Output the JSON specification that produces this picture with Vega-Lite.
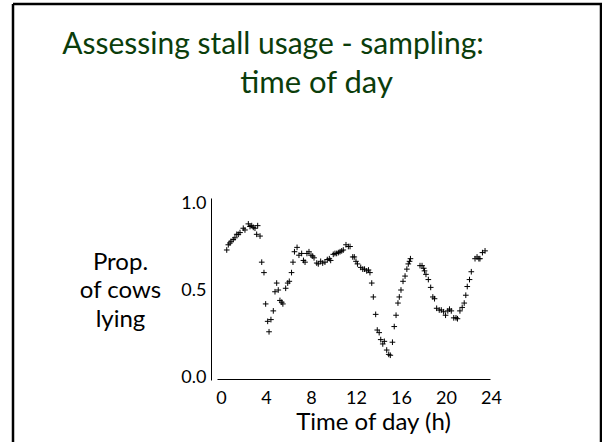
{
  "$schema": "https://vega.github.io/schema/vega-lite/v6.json",
  "autosize": "none",
  "width": 588,
  "height": 438,
  "padding": {"left": 13, "top": 4, "right": 1, "bottom": 0},
  "background": "white",
  "title": {
    "text": "Assessing stall usage - sampling:",
    "anchor": "middle",
    "frame": "group",
    "dx": -34,
    "dy": 80,
    "offset": 0,
    "baseline": "alphabetic",
    "font": "Lato",
    "fontSize": 30,
    "fontWeight": "normal",
    "color": "#0b3d0b"
  },
  "config": {
    "view": {"stroke": "black", "strokeWidth": 2.5, "strokeDash": [1026, 588, 438, 0], "fill": "white"},
    "axis": {"grid": false, "labelFont": "Lato", "titleFont": "Lato", "labelColor": "black", "titleColor": "black", "titleFontWeight": "normal"}
  },
  "data": {"values": [
    {"t":0.51,"p":0.73},{"t":0.65,"p":0.76},{"t":0.80,"p":0.77},{"t":0.89,"p":0.78},{"t":1.09,"p":0.79},
    {"t":1.24,"p":0.80},{"t":1.40,"p":0.82},{"t":1.54,"p":0.82},{"t":1.69,"p":0.83},{"t":1.98,"p":0.855},
    {"t":2.13,"p":0.845},{"t":2.43,"p":0.88},{"t":2.58,"p":0.865},{"t":2.73,"p":0.87},{"t":2.87,"p":0.86},
    {"t":3.02,"p":0.855},{"t":3.26,"p":0.87},{"t":3.17,"p":0.82},{"t":3.47,"p":0.81},{"t":3.62,"p":0.66},
    {"t":3.82,"p":0.60},{"t":3.97,"p":0.42},{"t":4.15,"p":0.32},{"t":4.27,"p":0.26},{"t":4.44,"p":0.33},
    {"t":4.65,"p":0.38},{"t":4.80,"p":0.49},{"t":4.95,"p":0.54},{"t":5.09,"p":0.50},{"t":5.24,"p":0.44},
    {"t":5.40,"p":0.43},{"t":5.50,"p":0.42},{"t":5.75,"p":0.51},{"t":5.93,"p":0.54},{"t":6.07,"p":0.55},
    {"t":6.27,"p":0.60},{"t":6.40,"p":0.66},{"t":6.53,"p":0.72},{"t":6.76,"p":0.745},{"t":6.93,"p":0.70},
    {"t":7.17,"p":0.71},{"t":7.33,"p":0.67},{"t":7.47,"p":0.66},{"t":7.64,"p":0.71},{"t":7.82,"p":0.72},
    {"t":8.00,"p":0.70},{"t":8.15,"p":0.695},{"t":8.27,"p":0.685},{"t":8.51,"p":0.655},{"t":8.65,"p":0.65},
    {"t":8.86,"p":0.665},{"t":9.04,"p":0.655},{"t":9.24,"p":0.66},{"t":9.45,"p":0.675},{"t":9.63,"p":0.68},
    {"t":9.75,"p":0.67},{"t":9.98,"p":0.705},{"t":10.13,"p":0.71},{"t":10.28,"p":0.71},{"t":10.43,"p":0.715},
    {"t":10.58,"p":0.72},{"t":10.73,"p":0.725},{"t":10.87,"p":0.73},{"t":11.11,"p":0.76},{"t":11.32,"p":0.75},
    {"t":11.47,"p":0.75},{"t":11.71,"p":0.69},{"t":11.85,"p":0.69},{"t":12.00,"p":0.665},{"t":12.13,"p":0.65},
    {"t":12.42,"p":0.63},{"t":12.60,"p":0.62},{"t":12.76,"p":0.62},{"t":12.95,"p":0.61},{"t":13.11,"p":0.615},
    {"t":13.24,"p":0.60},{"t":13.40,"p":0.54},{"t":13.54,"p":0.46},{"t":13.75,"p":0.36},{"t":13.89,"p":0.27},
    {"t":14.06,"p":0.255},{"t":14.20,"p":0.215},{"t":14.38,"p":0.19},{"t":14.52,"p":0.205},{"t":14.73,"p":0.155},
    {"t":14.91,"p":0.13},{"t":15.05,"p":0.125},{"t":15.24,"p":0.20},{"t":15.40,"p":0.29},{"t":15.56,"p":0.355},
    {"t":15.73,"p":0.425},{"t":15.85,"p":0.46},{"t":16.00,"p":0.50},{"t":16.18,"p":0.55},{"t":16.36,"p":0.58},
    {"t":16.52,"p":0.62},{"t":16.65,"p":0.65},{"t":16.76,"p":0.665},{"t":16.84,"p":0.68},{"t":17.69,"p":0.64},
    {"t":17.87,"p":0.64},{"t":18.02,"p":0.625},{"t":18.09,"p":0.61},{"t":18.22,"p":0.59},{"t":18.43,"p":0.56},
    {"t":18.64,"p":0.515},{"t":18.83,"p":0.46},{"t":18.98,"p":0.45},{"t":19.17,"p":0.395},{"t":19.40,"p":0.385},
    {"t":19.58,"p":0.385},{"t":19.79,"p":0.375},{"t":19.96,"p":0.355},{"t":20.16,"p":0.38},{"t":20.31,"p":0.39},
    {"t":20.47,"p":0.38},{"t":20.69,"p":0.34},{"t":20.89,"p":0.34},{"t":21.02,"p":0.335},{"t":21.24,"p":0.38},
    {"t":21.44,"p":0.40},{"t":21.62,"p":0.425},{"t":21.76,"p":0.47},{"t":21.89,"p":0.52},{"t":22.09,"p":0.56},
    {"t":22.25,"p":0.605},{"t":22.58,"p":0.68},{"t":22.76,"p":0.69},{"t":22.92,"p":0.68},{"t":23.02,"p":0.68},
    {"t":23.24,"p":0.715},{"t":23.47,"p":0.725}
  ]},
  "resolve": {"axis": {"x": "independent"}},
  "layer": [
    {
      "mark": {"type": "point", "shape": "M-1,0L1,0M0,-1L0,1", "filled": false, "stroke": "black", "strokeWidth": 1, "size": 32, "opacity": 1},
      "encoding": {
        "x": {
          "field": "t", "type": "quantitative",
          "scale": {"domain": [-18.489, 33.778], "nice": false, "zero": false},
          "axis": {
            "orient": "bottom", "offset": -63, "values": [0, 4, 8, 12, 16, 20, 24], "format": "d",
            "ticks": false, "tickSize": 0, "labelPadding": 10, "labelFontSize": 18,
            "domainColor": "black", "domainWidth": 1, "domainDash": [0, 204, 273, 1000],
            "title": "Time of day (h)", "titleFontSize": 24, "titleX": 360, "titleY": 50,
            "titleAlign": "center", "titleBaseline": "alphabetic", "titleAngle": 0
          }
        },
        "y": {
          "field": "p", "type": "quantitative",
          "scale": {"domain": [-0.3735, 2.1437], "nice": false, "zero": false},
          "axis": {
            "orient": "left", "offset": -198, "values": [0, 0.5, 1], "format": ".1f",
            "ticks": false, "tickSize": 0, "labelPadding": 5, "labelFontSize": 18,
            "domainColor": "black", "domainWidth": 1, "domainDash": [0, 62, 182, 1000],
            "title": ["Prop.", "of cows", "lying"], "titleFontSize": 24, "titleLineHeight": 28.5,
            "titleAngle": 0, "titleAlign": "center", "titleBaseline": "alphabetic",
            "titleX": -91, "titleY": 265
          }
        }
      }
    },
    {
      "mark": {"type": "point", "opacity": 0},
      "encoding": {
        "x": {
          "field": "t", "type": "quantitative",
          "axis": {
            "orient": "top", "domain": false, "ticks": false, "labels": false, "grid": false,
            "title": "time of day", "titleFontSize": 31, "titleColor": "#0b3d0b",
            "titleX": 303, "titleY": 88, "titleAlign": "center", "titleBaseline": "alphabetic", "titleAngle": 0
          }
        }
      }
    }
  ]
}
